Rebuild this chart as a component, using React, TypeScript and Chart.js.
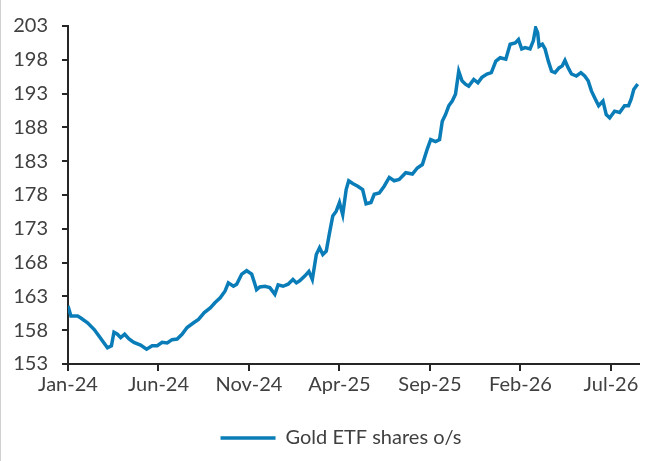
import { useEffect, useRef } from 'react'
import { Chart, registerables } from 'chart.js'

Chart.register(...registerables)

// months since Jan-24 for each reading
const monthIndex = [
  0, 0.16, 0.53, 0.71, 1.08, 1.45, 1.72, 1.99, 2.18, 2.4, 2.54, 2.73, 2.91, 3.13, 3.37, 3.64,
  4.01, 4.34, 4.65, 4.93, 5.2, 5.48, 5.75, 6.03, 6.3, 6.58, 6.94, 7.21, 7.53, 7.86, 8.13, 8.41,
  8.68, 8.86, 9.14, 9.32, 9.6, 9.87, 10.15, 10.33, 10.42, 10.6, 10.88, 11.15, 11.43, 11.61,
  11.88, 12.16, 12.43, 12.62, 12.8, 13.08, 13.31, 13.5, 13.72, 13.9, 14.08, 14.27, 14.45,
  14.63, 14.82, 15.0, 15.18, 15.37, 15.51, 15.73, 16.01, 16.28, 16.47, 16.74, 16.92, 17.2,
  17.47, 17.75, 18.02, 18.3, 18.66, 19.03, 19.3, 19.58, 19.85, 20.04, 20.31, 20.53, 20.68,
  20.86, 21.04, 21.23, 21.41, 21.59, 21.77, 21.96, 22.14, 22.42, 22.65, 22.87, 23.15, 23.39,
  23.64, 23.88, 24.19, 24.43, 24.71, 24.89, 25.07, 25.26, 25.53, 25.71, 25.84, 25.95, 26.03,
  26.21, 26.36, 26.54, 26.72, 26.91, 27.13, 27.31, 27.46, 27.64, 27.82, 28.09, 28.34, 28.55,
  28.74, 28.92, 29.1, 29.32, 29.56, 29.74, 29.93, 30.2, 30.48, 30.75, 30.97, 31.12, 31.26, 31.48,
]

const sharesOs = [
  161.6, 160.1, 160.1, 159.8, 159.1, 158.1, 157.1, 156.1, 155.4, 155.7, 157.7, 157.4, 156.9,
  157.4, 156.7, 156.2, 155.8, 155.2, 155.7, 155.7, 156.2, 156.1, 156.6, 156.7, 157.4, 158.4,
  159.1, 159.6, 160.6, 161.3, 162.1, 162.8, 163.8, 165.0, 164.5, 164.8, 166.3, 166.8, 166.3,
  164.8, 164.0, 164.4, 164.5, 164.3, 163.3, 164.7, 164.5, 164.8, 165.5, 165.0, 165.3, 166.0,
  166.7, 165.5, 169.2, 170.2, 169.2, 169.7, 172.4, 174.9, 175.6, 176.9, 175.1, 178.8, 180.1,
  179.7, 179.3, 178.8, 176.7, 176.9, 178.1, 178.3, 179.3, 180.6, 180.1, 180.3, 181.3, 181.1,
  182.0, 182.5, 184.8, 186.2, 185.9, 186.2, 188.9, 189.9, 191.2, 191.9, 192.9, 196.3, 194.9,
  194.4, 194.1, 195.1, 194.6, 195.4, 195.9, 196.1, 197.8, 198.3, 198.1, 200.3, 200.5, 201.0,
  199.6, 199.8, 199.6, 200.8, 202.7, 202.0, 200.0, 200.3, 199.6, 197.8, 196.3, 196.1, 196.8,
  197.1, 197.9, 196.8, 195.9, 195.6, 196.1, 195.6, 194.9, 193.4, 192.4, 191.2, 191.9, 189.9,
  189.4, 190.4, 190.2, 191.2, 191.2, 192.2, 193.6, 194.4,
]

const xTickMonths = [0, 5, 10, 15, 20, 25, 30]
const xTickLabels = ['Jan-24', 'Jun-24', 'Nov-24', 'Apr-25', 'Sep-25', 'Feb-26', 'Jul-26']

const FONT = 'Lato, "Open Sans", sans-serif'
const AXIS = '#262626'
const TEXT = '#404040'
const LINE = '#0a7db8'

// nudge the legend to the right, as in the source
const legendShift = {
  id: 'legendShift',
  afterLayout(chart: Chart) {
    const legend = chart.legend
    if (legend) {
      legend.left += 16
      legend.right += 16
    }
  },
}

export default function App() {
  const canvasRef = useRef<HTMLCanvasElement>(null)
  const chartRef = useRef<Chart | null>(null)

  useEffect(() => {
    if (!canvasRef.current) return
    if (chartRef.current) chartRef.current.destroy()

    chartRef.current = new Chart(canvasRef.current, {
      type: 'line',
      data: {
        datasets: [
          {
            label: 'Gold ETF shares o/s',
            data: monthIndex.map((m, i) => ({ x: m, y: sharesOs[i] })),
            borderColor: LINE,
            backgroundColor: LINE,
            borderWidth: 3.5,
            pointRadius: 0,
            tension: 0,
          },
        ],
      },
      options: {
        animation: false,
        responsive: false,
        maintainAspectRatio: false,
        layout: { padding: { top: 14, right: 11, left: 10, bottom: 3 } },
        plugins: {
          tooltip: { enabled: false },
          legend: {
            position: 'bottom',
            labels: {
              usePointStyle: true,
              pointStyle: 'line',
              pointStyleWidth: 55,
              padding: 29,
              color: TEXT,
              font: { family: FONT, size: 20 },
            },
          },
        },
        scales: {
          x: {
            type: 'linear',
            min: 0,
            max: 31.55,
            afterBuildTicks: (scale) => {
              scale.ticks = xTickMonths.map((v) => ({ value: v }))
            },
            grid: { drawOnChartArea: false, drawTicks: true, tickLength: 7, color: AXIS, lineWidth: 2 },
            border: { display: true, color: AXIS, width: 2 },
            ticks: {
              color: TEXT,
              padding: 2,
              maxRotation: 0,
              autoSkip: false,
              font: { family: FONT, size: 20 },
              callback: (v) => xTickLabels[xTickMonths.indexOf(Number(v))] ?? '',
            },
          },
          y: {
            min: 153,
            max: 203,
            afterFit: (scale) => {
              scale.width = 57
            },
            grid: { drawOnChartArea: false, drawTicks: true, tickLength: 6, color: AXIS, lineWidth: 2 },
            border: { display: true, color: AXIS, width: 2 },
            ticks: {
              stepSize: 5,
              color: TEXT,
              padding: 14,
              font: { family: FONT, size: 20 },
            },
          },
        },
      },
      plugins: [legendShift],
    })

    return () => {
      if (chartRef.current) {
        chartRef.current.destroy()
        chartRef.current = null
      }
    }
  }, [])

  return (
    <div
      style={{
        position: 'fixed',
        left: 0,
        top: 0,
        width: 650,
        height: 461,
        background: '#fff',
        boxSizing: 'border-box',
        borderLeft: '1px solid #d0d0d0',
      }}
    >
      <canvas ref={canvasRef} width={649} height={461} style={{ width: 649, height: 461 }}></canvas>
    </div>
  )
}
